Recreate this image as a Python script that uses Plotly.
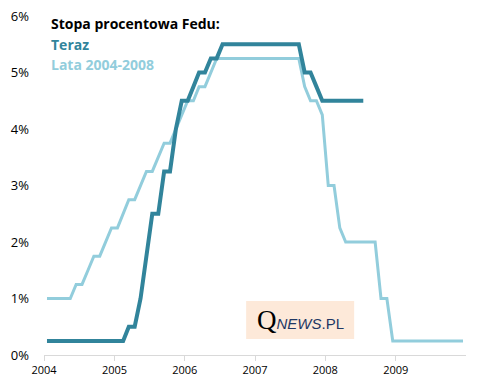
import pandas as pd
import plotly.graph_objects as go

# Monthly Fed funds target (upper bound), end-of-month values, %
start_month = "2004-01-01"
lata_2004_2008 = [
    1.0, 1.0, 1.0, 1.0, 1.0, 1.25, 1.25, 1.5, 1.75, 1.75, 2.0, 2.25,      # 2004
    2.25, 2.5, 2.75, 2.75, 3.0, 3.25, 3.25, 3.5, 3.75, 3.75, 4.0, 4.25,   # 2005
    4.5, 4.5, 4.75, 4.75, 5.0, 5.25, 5.25, 5.25, 5.25, 5.25, 5.25, 5.25,  # 2006
    5.25, 5.25, 5.25, 5.25, 5.25, 5.25, 5.25, 5.25, 4.75, 4.5, 4.5, 4.25, # 2007
    3.0, 3.0, 2.25, 2.0, 2.0, 2.0, 2.0, 2.0, 2.0, 1.0, 1.0, 0.25,        # 2008
    0.25, 0.25, 0.25, 0.25, 0.25, 0.25, 0.25, 0.25, 0.25, 0.25, 0.25, 0.25,  # 2009
]
# Current cycle (Jan 2021 - Jul 2025), aligned to the 2004 start
teraz = [
    0.25, 0.25, 0.25, 0.25, 0.25, 0.25, 0.25, 0.25, 0.25, 0.25, 0.25, 0.25,  # 2021
    0.25, 0.25, 0.5, 0.5, 1.0, 1.75, 2.5, 2.5, 3.25, 3.25, 4.0, 4.5,       # 2022
    4.5, 4.75, 5.0, 5.0, 5.25, 5.25, 5.5, 5.5, 5.5, 5.5, 5.5, 5.5,        # 2023
    5.5, 5.5, 5.5, 5.5, 5.5, 5.5, 5.5, 5.5, 5.0, 5.0, 4.75, 4.5,          # 2024
    4.5, 4.5, 4.5, 4.5, 4.5, 4.5, 4.5,                                    # 2025
]
tick_years = ["2004", "2005", "2006", "2007", "2008", "2009"]
y_ticks = [0, 1, 2, 3, 4, 5, 6]

month_starts = pd.date_range(start_month, periods=len(lata_2004_2008) + 1, freq="MS")
mid_months = [a + (b - a) / 2 for a, b in zip(month_starts[:-1], month_starts[1:])]

DARK = "#31849B"
LIGHT = "#92CDDC"

fig = go.Figure()
fig.add_trace(go.Scatter(x=mid_months, y=lata_2004_2008, mode="lines",
                         line=dict(color=LIGHT, width=3), name="Lata 2004-2008",
                         hoverinfo="skip"))
fig.add_trace(go.Scatter(x=mid_months[:len(teraz)], y=teraz, mode="lines",
                         line=dict(color=DARK, width=4), name="Teraz",
                         hoverinfo="skip"))

fig.update_layout(
    width=481, height=389,
    margin=dict(l=44, r=15, t=16, b=34, autoexpand=False),
    paper_bgcolor="white", plot_bgcolor="white",
    showlegend=False,
    font=dict(family="Open Sans, Lato, sans-serif", color="black"),
)
fig.update_xaxes(
    type="date",
    range=["2004-01-01", "2010-01-01"],
    tickvals=[f"{y}-01-01" for y in tick_years],
    ticktext=tick_years,
    ticks="outside", ticklen=5, tickcolor="#d9d9d9",
    showline=True, linecolor="#d9d9d9", linewidth=1,
    showgrid=False, zeroline=False, automargin=False,
    tickfont=dict(size=11, color="black"),
)
fig.update_yaxes(
    range=[0, 6],
    tickvals=y_ticks,
    ticktext=[f"{v}%" for v in y_ticks],
    showgrid=False, zeroline=False, showline=False, automargin=False,
    ticks="", ticklabelstandoff=14,
    tickfont=dict(size=13, color="black"),
)

title_font = "Open Sans, Lato, sans-serif"
fig.add_annotation(xref="paper", yref="paper", x=0.012, y=0.979, xanchor="left", yanchor="middle",
                   text="<b>Stopa procentowa Fedu:</b>", showarrow=False,
                   font=dict(size=14, color="black", family=title_font))
fig.add_annotation(xref="paper", yref="paper", x=0.012, y=0.916, xanchor="left", yanchor="middle",
                   text="<b>Teraz</b>", showarrow=False,
                   font=dict(size=14, color=DARK, family=title_font))
fig.add_annotation(xref="paper", yref="paper", x=0.012, y=0.857, xanchor="left", yanchor="middle",
                   text="<b>Lata 2004-2008</b>", showarrow=False,
                   font=dict(size=14, color=LIGHT, family=title_font))

# watermark box
fig.add_shape(type="rect", xref="paper", yref="paper",
              x0=0.479, x1=0.735, y0=0.047, y1=0.159,
              fillcolor="#FDE9D9", line=dict(width=0), layer="below")
fig.add_annotation(xref="paper", yref="paper", x=0.607, y=0.103, xanchor="center", yanchor="middle",
                   showarrow=False,
                   text="<span style='font-family:Liberation Serif;font-size:27px;color:black'>Q</span>"
                        "<span style='color:#1F3864'><i>NEWS</i>.PL</span>",
                   font=dict(size=15, color="#1F3864", family="Liberation Sans, Arial, sans-serif"))

fig.write_html("out.html", config={"displayModeBar": False},
               post_script="document.body.style.margin='0';")
